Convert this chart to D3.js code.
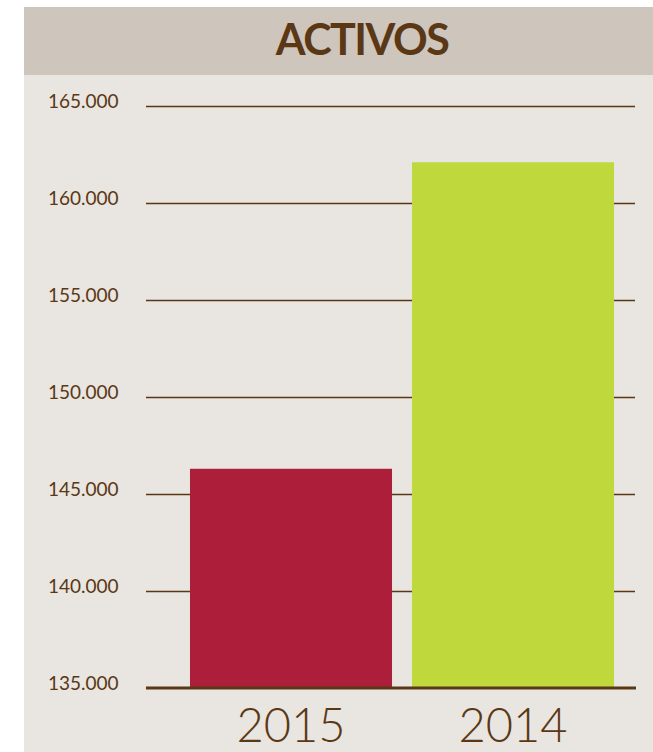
<!DOCTYPE html>
<html>
<head>
<meta charset="utf-8">
<script src="https://cdn.jsdelivr.net/npm/d3@7"></script>
<style>
  body { margin: 0; background: #ffffff; }
  svg { display: block; }
</style>
</head>
<body>
<svg></svg>
<script>
// values in thousands
var years = ["2015", "2014"];
var activos = [146.3, 162.1];
var barColors = ["#ad1e3a", "#bfd83b"];
var tickValues = [135, 140, 145, 150, 155, 160, 165];
var title = "ACTIVOS";

var width = 653,
    height = 752;

var brown = "#5a3815";

var svg = d3.select("svg")
    .attr("width", width)
    .attr("height", height)

// panel + title band
svg.append("rect")
    .attr("x", 24).attr("y", 7)
    .attr("width", width - 24).attr("height", height - 7)
    .attr("fill", "#e9e5e0")

svg.append("rect")
    .attr("x", 24).attr("y", 7)
    .attr("width", width - 24).attr("height", 68)
    .attr("fill", "#cec5bc")

svg.append("text")
    .attr("x", 362)
    .attr("y", 55)
    .attr("text-anchor", "middle")
    .attr("fill", brown)
    .attr("font-family", "Lato, sans-serif")
    .attr("font-weight", "bold")
    .attr("font-size", 43)
    .attr("letter-spacing", -1.5)
    .text(title)

var y = d3.scaleLinear()
    .domain([135, 165])
    .range([688, 106])

var x = d3.scaleBand()
    .domain(years)
    .range([180, 624])
    .paddingInner(0.09)
    .paddingOuter(0.045)

var fmt = d3.formatLocale({ decimal: ",", thousands: ".", grouping: [3], currency: ["", ""] }).format(",")

var gridLeft = 146,
    gridRight = 635;

// grid lines + labels
var axis = d3.axisLeft(y)
    .tickValues(tickValues)
    .tickSize(-(gridRight - gridLeft))
    .tickFormat((d) => fmt(d * 1000))

var gAxis = svg.append("g")
    .attr("transform", "translate(" + gridLeft + ",0)")
    .call(axis)

gAxis.select(".domain").remove()
gAxis.selectAll(".tick line")
    .attr("stroke", brown)
    .attr("stroke-width", 1.5)
    .filter((d) => d === 135).remove()
gAxis.selectAll(".tick text")
    .attr("x", 48 - gridLeft)
    .attr("dy", "0.07em")
    .attr("text-anchor", "start")
    .attr("fill", brown)
    .attr("font-family", "Lato, sans-serif")
    .attr("font-size", 19)

// bars
svg.selectAll(".bar")
    .data(years)
    .enter()
    .append("rect")
    .attr("class", "bar")
    .attr("x", (d) => x(d))
    .attr("width", x.bandwidth())
    .attr("y", (d, i) => y(activos[i]))
    .attr("height", (d, i) => y(135) - y(activos[i]))
    .attr("fill", (d, i) => barColors[i])

// baseline
svg.append("line")
    .attr("x1", gridLeft).attr("x2", gridRight + 1)
    .attr("y1", y(135)).attr("y2", y(135))
    .attr("stroke", brown)
    .attr("stroke-width", 3)

// year labels
svg.selectAll(".year")
    .data(years)
    .enter()
    .append("text")
    .attr("class", "year")
    .attr("x", (d) => x(d) + x.bandwidth() / 2)
    .attr("y", 742)
    .attr("text-anchor", "middle")
    .attr("fill", brown)
    .attr("font-family", "Lato, sans-serif")
    .attr("font-weight", 300)
    .attr("font-size", 47)
    .text((d) => d)
</script>
</body>
</html>
